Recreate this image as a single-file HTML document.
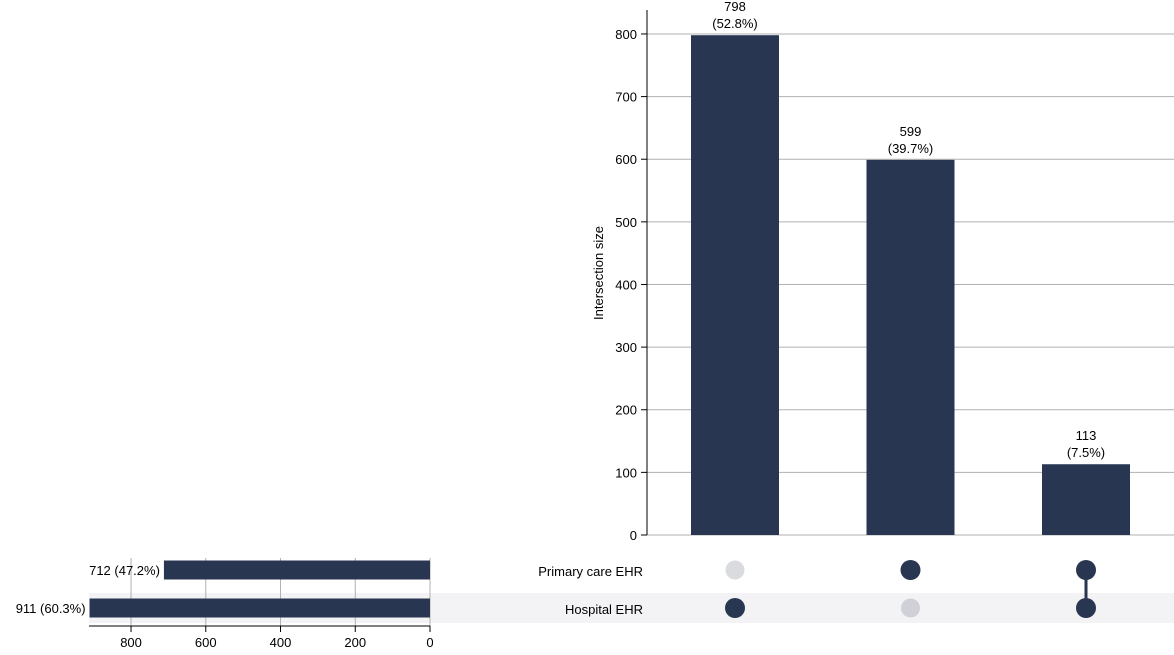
<!DOCTYPE html>
<html><head><meta charset="utf-8"><style>
body{margin:0;background:#fff}
svg text{font-family:"Liberation Sans","DejaVu Sans",sans-serif;font-size:13px;fill:#000}
</style></head><body>
<svg id="c" width="1174" height="650" xmlns="http://www.w3.org/2000/svg"></svg>
<script>
const intersectionLabels=["Hospital only","Primary only","Both"];
const intersectionValues=[798,599,113];
const intersectionPct=["52.8%","39.7%","7.5%"];
const sets=["Primary care EHR","Hospital EHR"];
const setSizes=[712,911];
const setPct=["47.2%","60.3%"];
const membership=[[0,1],[1,0],[1,1]];
const yTicks=[0,100,200,300,400,500,600,700,800];
const xTicks=[800,600,400,200,0];
const C="#283651",NS="http://www.w3.org/2000/svg",svg=document.getElementById('c');
function el(t,a,p){const e=document.createElementNS(NS,t);for(const k in a)e.setAttribute(k,a[k]);(p||svg).appendChild(e);return e;}
const y=v=>535-v*0.6263, bx=i=>735+i*175.5;
const rowY=i=>570+i*38, sx=v=>430-v*0.3737;
// row shading
let s=el('rect',{x:89,y:593,width:1085,height:30,fill:'#f3f3f5'});

// y grid + ticks
yTicks.forEach(t=>{
 let g=el('line',{x1:647,x2:1174,y1:y(t),y2:y(t),stroke:'#b0b0b0','stroke-width':1});
 
 el('line',{x1:641,x2:647,y1:y(t),y2:y(t),stroke:'#000'});
 let tx=el('text',{x:637,y:y(t)+5,'text-anchor':'end'});tx.textContent=t;
 
});
let ax=el('line',{x1:647,x2:647,y1:10,y2:535,stroke:'#000'});

let yt=el('text',{x:603,y:273,'text-anchor':'middle',transform:'rotate(-90 603 273)'});yt.textContent='Intersection size';

intersectionValues.forEach((v,i)=>{
 let r=el('rect',{x:bx(i)-44,y:y(v),width:88,height:535-y(v),fill:C});
 
 let t1=el('text',{x:bx(i),y:y(v)-24,'text-anchor':'middle'});t1.textContent=v;
 
 let t2=el('text',{x:bx(i),y:y(v)-7,'text-anchor':'middle'});t2.textContent='('+intersectionPct[i]+')';
 
});
// set size grid
xTicks.forEach(t=>{
 let g=el('line',{x1:sx(t),x2:sx(t),y1:558,y2:626,stroke:'#b0b0b0'});
 
});
setSizes.forEach((v,i)=>{
 let r=el('rect',{x:sx(v),y:rowY(i)-9.5,width:430-sx(v),height:19,fill:C});
 
 let t=el('text',{x:sx(v)-4,y:rowY(i)+5,'text-anchor':'end'});t.textContent=v+' ('+setPct[i]+')';
 
 let n=el('text',{x:643,y:rowY(i)+6,'text-anchor':'end'});n.textContent=sets[i];
 
});
xTicks.forEach(t=>{
 el('line',{x1:sx(t),x2:sx(t),y1:626,y2:632,stroke:'#000'});
 let tx=el('text',{x:sx(t),y:647,'text-anchor':'middle'});tx.textContent=t;
 
});
let xa=el('line',{x1:89,x2:430,y1:626,y2:626,stroke:'#000'});

// matrix
membership.forEach((m,i)=>{
 const on=m.map((v,j)=>v?j:-1).filter(j=>j>=0);
 if(on.length>1){let l=el('line',{x1:bx(i),x2:bx(i),y1:rowY(on[0]),y2:rowY(on[on.length-1]),stroke:C,'stroke-width':3});
  }
 m.forEach((v,j)=>{
  let d=el('circle',{cx:bx(i),cy:rowY(j),r:v?10:9.5,fill:v?C:(j==1?'#d0d0d8':'#d9dbde')});
  
 });
});
</script>
</body></html>
